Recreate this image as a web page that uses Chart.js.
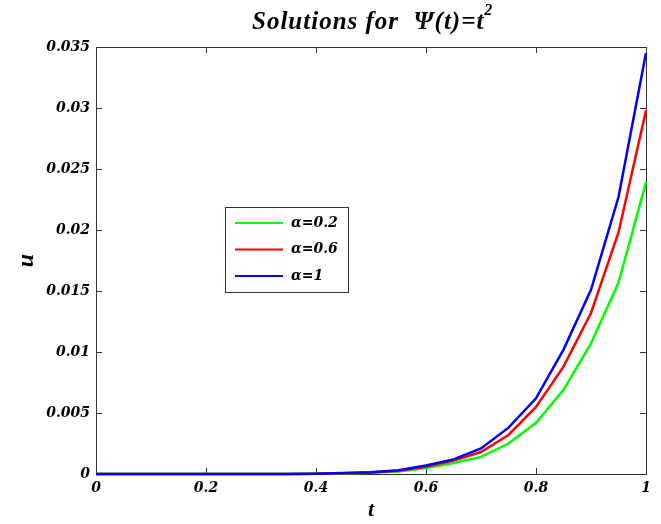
<!DOCTYPE html>
<html>
<head>
<meta charset="utf-8">
<script src="https://cdn.jsdelivr.net/npm/chart.js@4.4.0/dist/chart.umd.min.js"></script>
<style>
  html, body { margin: 0; padding: 0; background: #fff; }
</style>
</head>
<body>
<canvas id="solChart" width="661" height="524"></canvas>
<script>
// data
const tValues = [0, 0.05, 0.1, 0.15, 0.2, 0.25, 0.3, 0.35, 0.4, 0.45, 0.5, 0.55, 0.6, 0.65, 0.7, 0.75, 0.8, 0.85, 0.9, 0.95, 1];
const uAlpha02 = [0, 0, 0, 0, 0, 0, 0, 0, 0.00002, 0.00005, 0.0001, 0.0002, 0.0005, 0.0009, 0.0014, 0.0025, 0.0042, 0.0069, 0.0107, 0.0157, 0.0239];
const uAlpha06 = [0, 0, 0, 0, 0, 0, 0, 0, 0.00003, 0.00007, 0.00013, 0.00027, 0.0006, 0.0011, 0.0018, 0.0032, 0.0055, 0.0088, 0.0132, 0.0198, 0.0298];
const uAlpha1 = [0, 0, 0, 0, 0, 0, 0, 0, 0.00003, 0.00008, 0.00015, 0.0003, 0.0007, 0.0012, 0.0021, 0.0038, 0.0062, 0.0102, 0.0151, 0.0227, 0.0345];
const seriesLabels = ['α=0.2', 'α=0.6', 'α=1'];
const seriesColors = ['#00ff00', '#ff0000', '#0000ff'];
const xTicks = [0, 0.2, 0.4, 0.6, 0.8, 1];
const yTicks = [0, 0.005, 0.01, 0.015, 0.02, 0.025, 0.03, 0.035];

const tickFont = { family: 'DejaVu Serif', size: 14, style: 'italic', weight: 'bold' };
const axisColor = '#333';

const toPoints = function (ys) {
    let pts = [];
    for (var i = 0; i < tValues.length; i++) {
        pts.push({ x: tValues[i], y: ys[i] });
    }
    return pts;
};

const fmt = v => String(Number(v.toFixed(3)));

// MATLAB style box with inward ticks, title, legend
const matlabAxes = {
    id: 'matlabAxes',
    beforeDatasetsDraw(chart) {
        const { ctx, chartArea: a, scales } = chart;
        ctx.save();
        ctx.strokeStyle = axisColor;
        ctx.lineWidth = 1;
        ctx.strokeRect(a.left + 0.5, a.top + 0.5, a.right - a.left, a.bottom - a.top);
        ctx.beginPath();
        xTicks.forEach(v => {
            const x = Math.round(scales.x.getPixelForValue(v)) + 0.5;
            ctx.moveTo(x, a.bottom); ctx.lineTo(x, a.bottom - 6);
            ctx.moveTo(x, a.top); ctx.lineTo(x, a.top + 6);
        });
        yTicks.forEach(v => {
            const y = Math.round(scales.y.getPixelForValue(v)) + 0.5;
            ctx.moveTo(a.left, y); ctx.lineTo(a.left + 6, y);
            ctx.moveTo(a.right, y); ctx.lineTo(a.right - 6, y);
        });
        ctx.stroke();
        ctx.restore();
    },
    afterDraw(chart) {
        const { ctx, chartArea: a } = chart;
        ctx.save();
        // title
        ctx.fillStyle = '#000';
        ctx.textBaseline = 'alphabetic';
        ctx.textAlign = 'left';
        ctx.letterSpacing = '1px';
        ctx.font = 'italic bold 25px "Liberation Serif"';
        const main = 'Solutions for  Ψ(t)=t';
        const w = ctx.measureText(main).width;
        const x0 = 252;
        ctx.fillText(main, x0, 29);
        ctx.letterSpacing = '0px';
        ctx.font = 'italic bold 16px "Liberation Serif"';
        ctx.fillText('2', x0 + w, 15);

        // legend
        const lx = 225, ly = 207, lw = 123, lh = 85;
        ctx.fillStyle = '#fff';
        ctx.fillRect(lx, ly, lw, lh);
        ctx.strokeStyle = axisColor;
        ctx.lineWidth = 1;
        ctx.strokeRect(lx + 0.5, ly + 0.5, lw, lh);
        ctx.font = 'italic bold 14px "DejaVu Serif"';
        ctx.textBaseline = 'middle';
        chart.data.datasets.forEach((ds, i) => {
            const y = ly + 16 + i * 26.5;
            ctx.strokeStyle = ds.borderColor;
            ctx.lineWidth = 2;
            ctx.beginPath();
            ctx.moveTo(lx + 10, y); ctx.lineTo(lx + 58, y);
            ctx.stroke();
            ctx.fillStyle = '#000';
            ctx.fillText(ds.label, lx + 66, y);
        });
        ctx.restore();
    }
};

const mkSet = (i, ys, order) => ({
    label: seriesLabels[i],
    data: toPoints(ys),
    borderColor: seriesColors[i],
    backgroundColor: seriesColors[i],
    borderWidth: 2.5,
    pointRadius: 0,
    tension: 0,
    order: order,
    clip: 4
});

new Chart(document.getElementById('solChart'), {
    type: 'line',
    data: {
        datasets: [
            mkSet(0, uAlpha02, 3),
            mkSet(1, uAlpha06, 2),
            mkSet(2, uAlpha1, 1)
        ]
    },
    options: {
        responsive: false,
        animation: false,
        devicePixelRatio: 1,
        layout: { padding: { top: 47, right: 15, left: 0, bottom: 0 } },
        scales: {
            x: {
                type: 'linear',
                min: 0,
                max: 1,
                afterBuildTicks: s => { s.ticks = xTicks.map(v => ({ value: v })); },
                afterFit: s => { s.height = 50; },
                grid: { display: false, drawTicks: false },
                border: { display: false },
                ticks: { font: tickFont, color: '#000', padding: 6, maxRotation: 0, callback: v => fmt(v) },
                title: { display: true, text: 't', color: '#000', padding: { top: 2, bottom: 0 },
                         font: { family: 'Liberation Serif', size: 22, style: 'italic', weight: 'bold' } }
            },
            y: {
                type: 'linear',
                min: 0,
                max: 0.035,
                afterBuildTicks: s => { s.ticks = yTicks.map(v => ({ value: v })); },
                afterFit: s => { s.width = 96; },
                grid: { display: false, drawTicks: false },
                border: { display: false },
                ticks: { font: tickFont, color: '#000', padding: 6, callback: v => fmt(v) },
                title: { display: true, text: 'u', color: '#000', padding: { top: 12, bottom: 0 },
                         font: { family: 'Liberation Serif', size: 24, style: 'italic', weight: 'bold' } }
            }
        },
        plugins: {
            legend: { display: false },
            title: { display: false },
            tooltip: { enabled: false }
        }
    },
    plugins: [matlabAxes]
});
</script>
</body>
</html>
